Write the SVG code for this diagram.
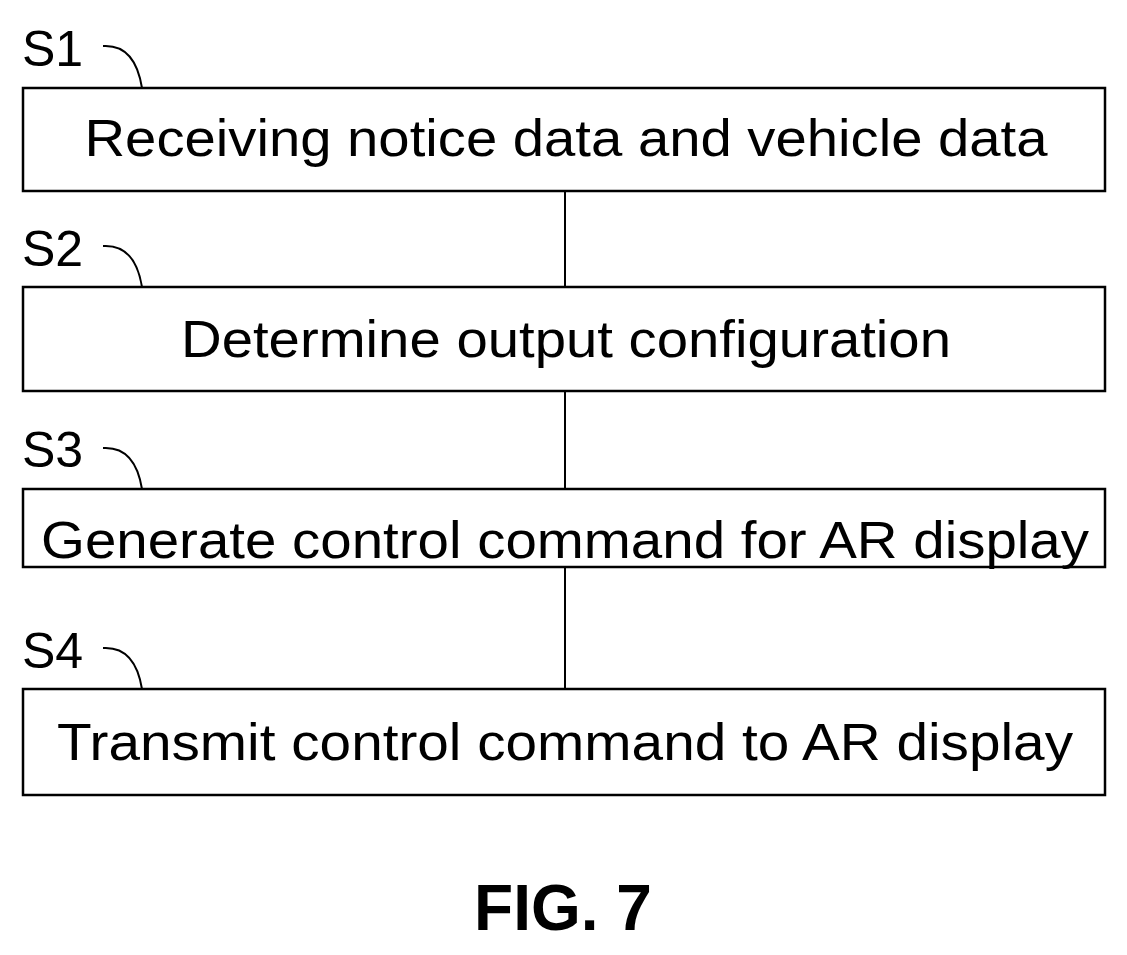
<svg xmlns="http://www.w3.org/2000/svg" width="1127" height="955" viewBox="0 0 1127 955">
<style>
.box{fill:#fff;stroke:#000;stroke-width:2.5}
.t{font-family:"Liberation Sans",Arial,sans-serif;font-size:52px;fill:#000;text-anchor:middle}
.l{font-family:"Liberation Sans",Arial,sans-serif;font-size:50px;fill:#000}
.c{fill:none;stroke:#000;stroke-width:2}
</style>
<rect width="1127" height="955" fill="#fff"/>
<g id="connectors">
<line class="c" x1="565" y1="191" x2="565" y2="287"/>
<line class="c" x1="565" y1="391" x2="565" y2="489"/>
<line class="c" x1="565" y1="567" x2="565" y2="689"/>
</g>
<g id="s1">
<rect class="box" x="23" y="88" width="1082" height="103"/>
<text class="t" x="566" y="156" textLength="963" lengthAdjust="spacingAndGlyphs">Receiving notice data and vehicle data</text>
<text class="l" x="22" y="66">S1</text>
<path class="c" d="M103 46 Q135 44 142 88"/>
</g>
<g id="s2">
<rect class="box" x="23" y="287" width="1082" height="104"/>
<text class="t" x="566" y="357" textLength="770" lengthAdjust="spacingAndGlyphs">Determine output configuration</text>
<text class="l" x="22" y="266">S2</text>
<path class="c" d="M103 246 Q135 244 142 287"/>
</g>
<g id="s3">
<rect class="box" x="23" y="489" width="1082" height="78"/>
<text class="t" x="565" y="558" textLength="1048" lengthAdjust="spacingAndGlyphs">Generate control command for AR display</text>
<text class="l" x="22" y="467">S3</text>
<path class="c" d="M103 448 Q135 446 142 489"/>
</g>
<g id="s4">
<rect class="box" x="23" y="689" width="1082" height="106"/>
<text class="t" x="565" y="760" textLength="1016" lengthAdjust="spacingAndGlyphs">Transmit control command to AR display</text>
<text class="l" x="22" y="668">S4</text>
<path class="c" d="M103 648 Q135 646 142 689"/>
</g>
<text x="563" y="930" style="font-family:'Liberation Sans',Arial,sans-serif;font-size:64px;font-weight:bold;text-anchor:middle">FIG. 7</text>
</svg>
